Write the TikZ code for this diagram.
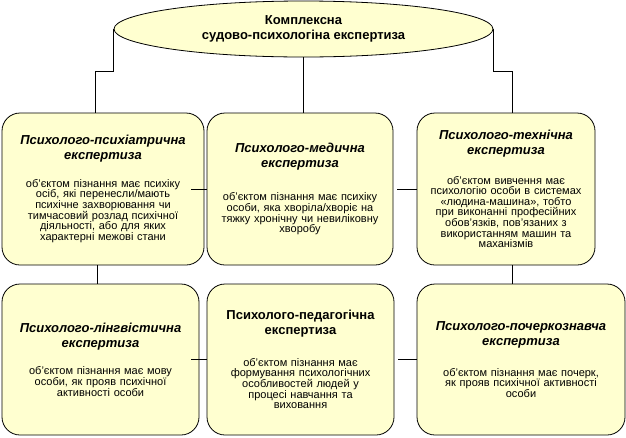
\documentclass[tikz,border=0pt]{standalone}
\usepackage{fontspec}
\setmainfont{Liberation Sans}
\usetikzlibrary{shapes.geometric,positioning}
\definecolor{cardyellow}{RGB}{255,255,208}
\newcommand{\headfont}{\fontsize{13}{15}\selectfont\bfseries\itshape}
\newcommand{\bodyfont}{\fontsize{11}{10.6}\selectfont\lineskiplimit=-20pt\relax}

\begin{document}
\begin{tikzpicture}[x=1pt, y=-1pt, node distance=170pt]
    \tikzstyle{card} = [rectangle, draw, rounded corners=18pt, line width=0.8pt, fill=cardyellow, align=center, inner xsep=2pt, minimum height=152pt, font=\bodyfont]
    \tikzstyle{link} = [line width=0.8pt]
    \useasboundingbox (0,0) rectangle (626,437);

    \node[ellipse, draw, line width=0.8pt, fill=cardyellow, minimum width=379pt, minimum height=56pt, inner sep=0pt, align=center, font=\fontsize{13}{15}\selectfont\bfseries] (complex) at (303.5,29) {Комплексна\\судово-психологіна експертиза};

    \node[card, minimum width=202pt, text width=194pt] (psychiatric) at (103,189) {{\headfont Психолого-психіатрична\\експертиза\par}\vspace{17pt}об'єктом пізнання має психіку\\осіб, які перенесли/мають\\психічне захворювання чи\\тимчасовий розлад психічної\\діяльності, або для яких\\характерні межові стани};
    \node[card, minimum width=186pt, text width=180pt, right of=psychiatric, xshift=27pt] (medical) {{\headfont Психолого-медична\\експертиза\par}\vspace{23pt}об'єктом пізнання має психіку\\особи, яка хворіла/хворіє на\\тяжку хронічну чи невиліковну\\хворобу};
    \node[card, minimum width=178pt, text width=172pt, right of=medical, xshift=36pt] (technical) {{\headfont Психолого-технічна\\експертиза\par}\vspace{19pt}об'єктом вивчення має\\психологію особи в системах\\«людина-машина», тобто\\при виконанні професійних\\обов'язків, пов'язаних з\\використанням машин та\\маханізмів};
    \node[card, minimum width=197pt, minimum height=151pt, text width=190pt, below of=psychiatric, xshift=-2.5pt, yshift=-0.5pt] (linguistic) {{\headfont Психолого-лінгвістична\\експертиза\par}\vspace{17pt}об'єктом пізнання має мову\\особи, як прояв психічної\\активності особи};
    \node[card, minimum width=187pt, minimum height=151pt, text width=180pt, below of=medical, xshift=0.5pt, yshift=-0.5pt] (pedagogical) {{\headfont\upshape Психолого-педагогічна\\експертиза\par}\vspace{21pt}об'єктом пізнання має\\формування психологічних\\особливостей людей у\\процесі навчання та\\виховання};
    \node[card, minimum width=208pt, minimum height=151pt, text width=200pt, below of=technical, xshift=15pt, yshift=-0.5pt] (handwriting) {{\headfont Психолого-почеркознавча\\експертиза\par}\vspace{20pt}об'єктом пізнання має почерк,\\як прояв психічної активності\\особи};

    \coordinate (lknee) at (95,71);
    \coordinate (rknee) at (512,71);
    \coordinate (ldrop) at ([xshift=-6pt]psychiatric.south);

    \draw[link] (complex.west) |- (lknee) -- (lknee |- psychiatric.north);
    \draw[link] (complex.south) -- (complex.south |- medical.north);
    \draw[link] (complex.east) |- (rknee) -- (rknee |- technical.north);
    \draw[link] ([xshift=-13pt]psychiatric.east) -- (medical.west);
    \draw[link] ([xshift=4pt]medical.east) -- (technical.west);
    \draw[link] ([xshift=-8pt]linguistic.east) -- (pedagogical.west);
    \draw[link] ([xshift=4pt]pedagogical.east) -- (handwriting.west);
    \draw[link] (ldrop) -- (ldrop |- linguistic.north);
    \draw[link] (rknee |- technical.south) -- (rknee |- handwriting.north);
\end{tikzpicture}
\end{document}
